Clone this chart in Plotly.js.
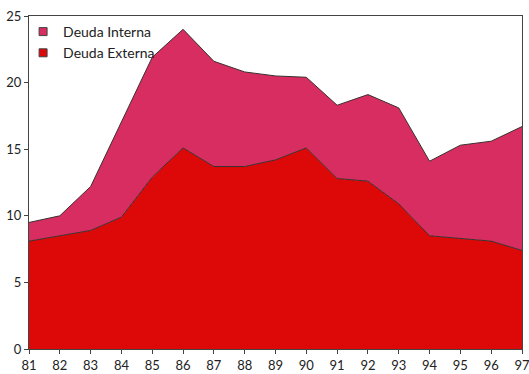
<!DOCTYPE html>
<html>
<head>
<meta charset="utf-8">
<script src="https://cdn.plot.ly/plotly-3.0.1.min.js"></script>
<style>
  html, body { margin: 0; padding: 0; background: #fff; }
  #chart { width: 529px; height: 374px; }
</style>
</head>
<body>
<div id="chart"></div>
<script>
// Años (eje X) y series de deuda, en % del PIB
var years = [81, 82, 83, 84, 85, 86, 87, 88, 89, 90, 91, 92, 93, 94, 95, 96, 97];
var tickLabels = ['81', '82', '83', '84', '85', '86', '87', '88', '89', '90', '91', '92', '93', '94', '95', '96', '97'];
var deudaExterna = [8.1, 8.5, 8.9, 9.9, 12.9, 15.1, 13.7, 13.7, 14.2, 15.1, 12.8, 12.6, 10.9, 8.5, 8.3, 8.1, 7.4];
var deudaInterna = [1.4, 1.5, 3.3, 7.1, 9.0, 8.9, 7.9, 7.1, 6.3, 5.3, 5.5, 6.5, 7.2, 5.6, 7.0, 7.5, 9.3];
var seriesNames = ['Deuda Interna', 'Deuda Externa'];

var colorExterna = '#dd0808';
var colorInterna = '#d82d60';
var edge = '#3a3030';

var traces = [
  {
    x: years, y: deudaExterna, type: 'scatter', mode: 'lines',
    stackgroup: 'deuda', fillcolor: colorExterna,
    line: { color: edge, width: 1 }, showlegend: false, hoverinfo: 'x+y'
  },
  {
    x: years, y: deudaInterna, type: 'scatter', mode: 'lines',
    stackgroup: 'deuda', fillcolor: colorInterna,
    line: { color: edge, width: 1 }, showlegend: false, hoverinfo: 'x+y'
  },
  // muestras de la leyenda
  {
    x: [null], y: [null], type: 'scatter', mode: 'markers', name: seriesNames[0],
    marker: { symbol: 'square', size: 8, color: colorInterna, line: { color: '#444', width: 1 } }
  },
  {
    x: [null], y: [null], type: 'scatter', mode: 'markers', name: seriesNames[1],
    marker: { symbol: 'square', size: 8, color: colorExterna, line: { color: '#444', width: 1 } }
  }
];

var layout = {
  width: 529, height: 374,
  margin: { l: 29, r: 7, t: 16, b: 25 },
  paper_bgcolor: '#fff', plot_bgcolor: '#fff',
  font: { family: 'Lato, "Open Sans", sans-serif', size: 13, color: '#222' },
  showlegend: true,
  legend: {
    x: -0.012, y: 1.0, xanchor: 'left', yanchor: 'top',
    traceorder: 'normal',
    bgcolor: 'rgba(0,0,0,0)', borderwidth: 0,
    font: { size: 14, color: '#222' },
    itemwidth: 30, tracegroupgap: 0
  },
  xaxis: {
    range: [81, 97], tickvals: years, ticktext: tickLabels,
    ticklabeloverflow: 'allow',
    showgrid: false, zeroline: false,
    showline: true, linecolor: '#444', linewidth: 1, mirror: true,
    ticks: 'outside', ticklen: 4, tickcolor: '#444', tickwidth: 1
  },
  yaxis: {
    range: [0, 25], tickvals: [0, 5, 10, 15, 20, 25],
    showgrid: false, zeroline: false,
    showline: true, linecolor: '#444', linewidth: 1, mirror: true,
    ticks: 'outside', ticklen: 4, tickcolor: '#444', tickwidth: 1
  }
};

Plotly.newPlot('chart', traces, layout, { displayModeBar: false, staticPlot: true });
</script>
</body>
</html>
